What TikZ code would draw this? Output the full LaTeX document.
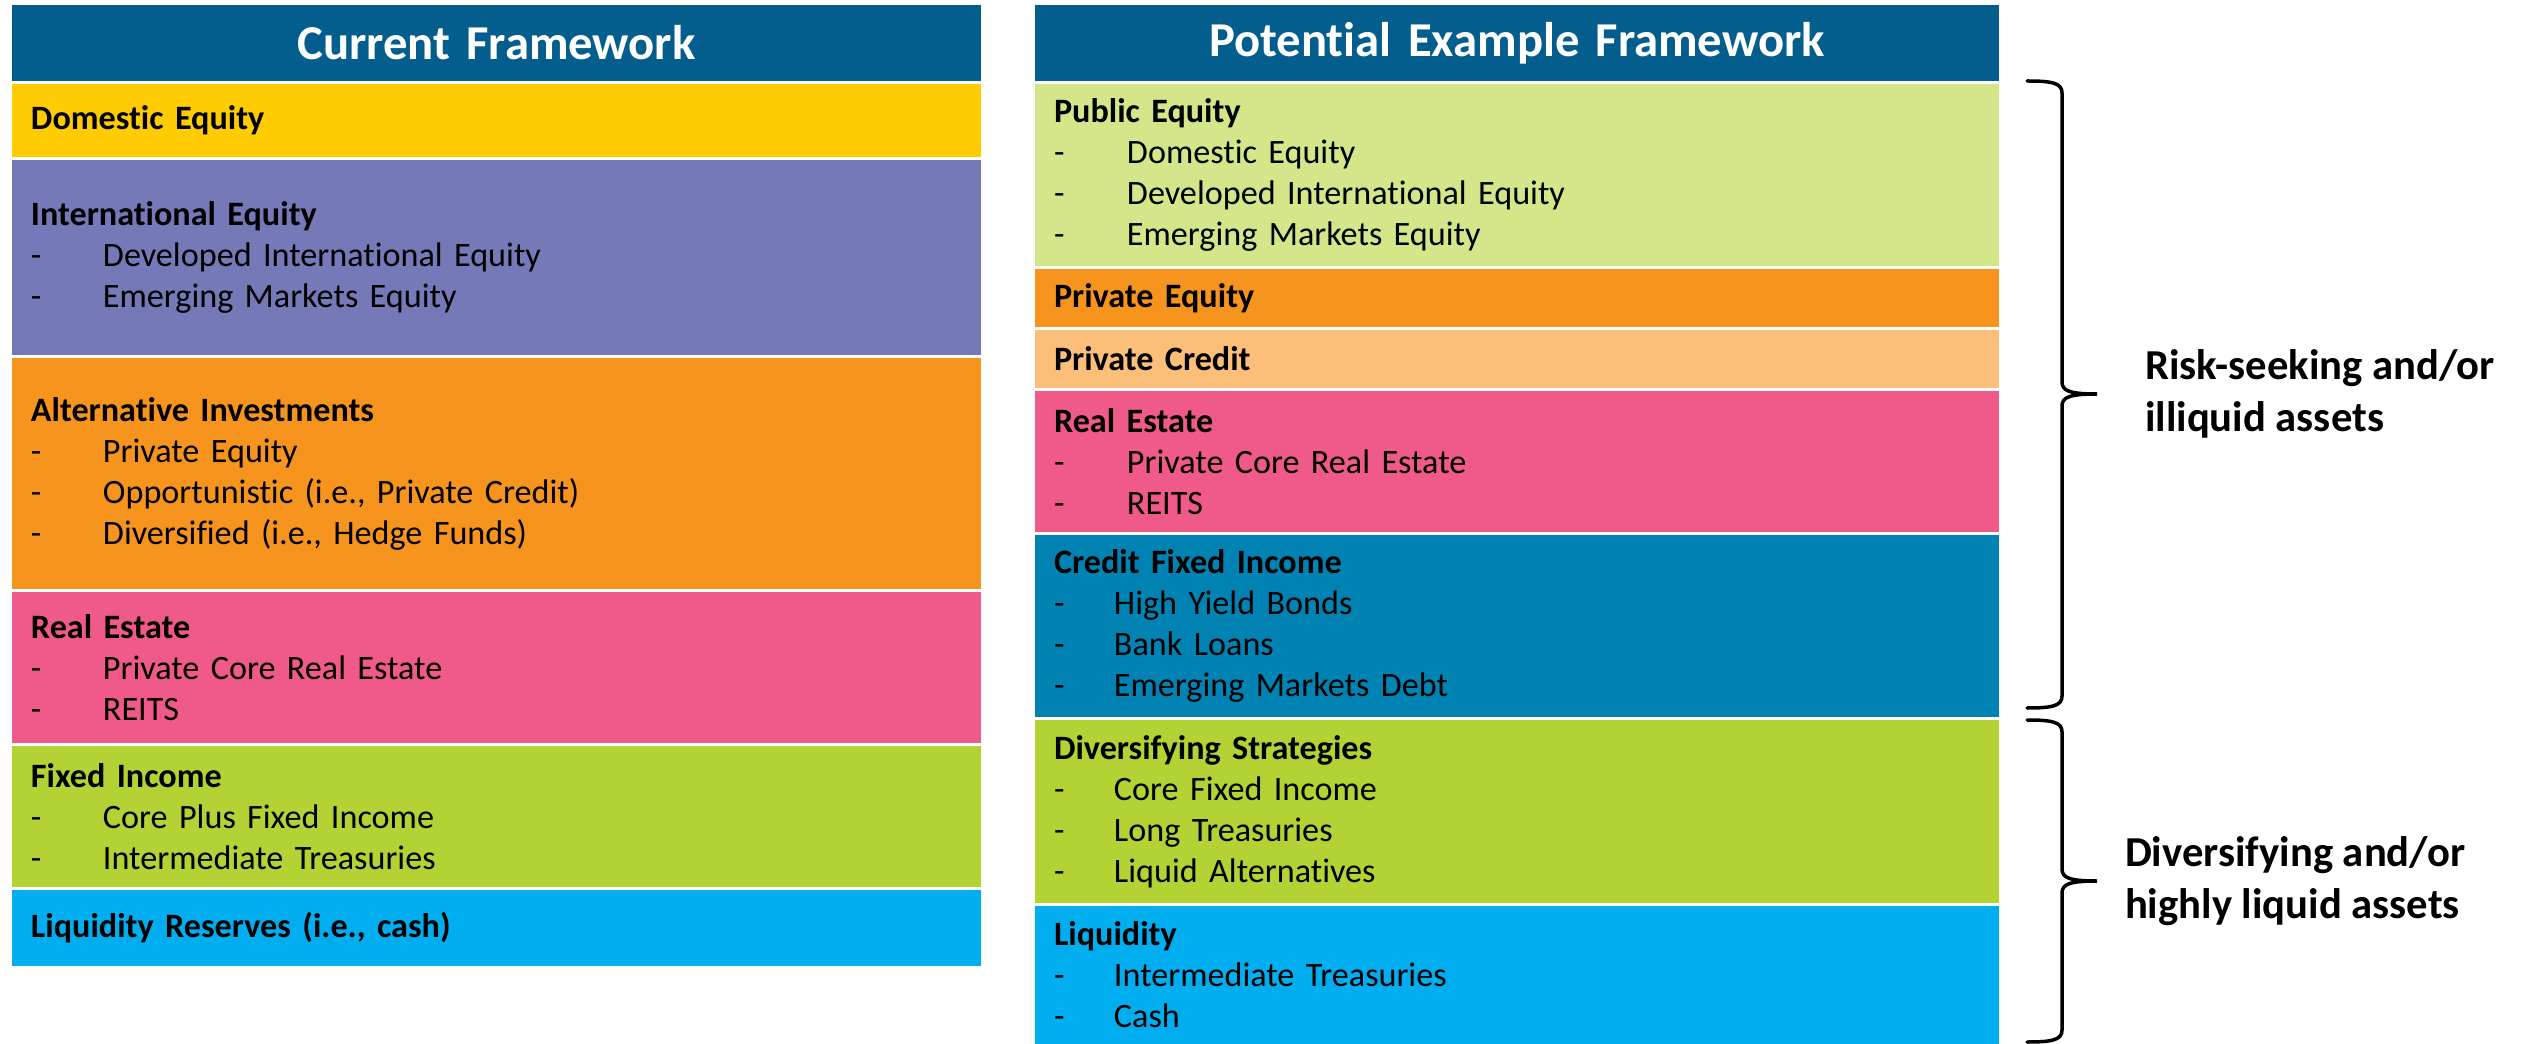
\documentclass[tikz,border=0pt]{standalone}
\usepackage{fontspec}
\setmainfont{Carlito}[Ligatures=NoCommon]
\usetikzlibrary{positioning}

\newdimen\px \px=0.3pt
\definecolor{hdrblue}{RGB}{4,94,141}
\definecolor{domyellow}{RGB}{255,204,4}
\definecolor{intlpurple}{RGB}{117,121,184}
\definecolor{altorange}{RGB}{247,148,30}
\definecolor{repink}{RGB}{240,90,136}
\definecolor{figreen}{RGB}{179,211,53}
\definecolor{liqcyan}{RGB}{0,174,239}
\definecolor{publime}{RGB}{212,230,138}
\definecolor{pcpeach}{RGB}{251,191,122}
\definecolor{cfiteal}{RGB}{0,131,179}
% dash, then the item at a fixed indent
\newcommand{\ditem}[2][72]{\makebox[#1\px][l]{-}#2}

\begin{document}
\begin{tikzpicture}[x=0.3pt, y=-0.3pt, node distance=3\px,
  every node/.style = {outer sep=0pt},
  band/.style = {rectangle, fill=#1, anchor=north west,
    inner xsep=19\px, inner ysep=0pt, align=left,
    font=\fontsize{10.25}{12.3}\selectfont},
  lcol/.style = {text width=931\px},
  rcol/.style = {text width=926\px},
  hdr/.style = {band=hdrblue, align=center, text=white,
    minimum height=76\px, font=\fontsize{14.6}{17}\selectfont\bfseries},
  tag/.style = {align=left, inner sep=0pt,
    font=\fontsize{12.8}{15.5}\selectfont\bfseries},
  bracestroke/.style = {line width=3.5\px, line cap=round}]
  \useasboundingbox (0,0) rectangle (2529,1044);

  % current framework
  \node[hdr, lcol] (curhdr) at (12,5) {Current Framework};
  \node[band=domyellow, lcol, minimum height=73\px, below=of curhdr] (dom)
    {\textbf{Domestic Equity}};
  \node[band=intlpurple, lcol, minimum height=195\px, below=of dom] (intl)
    {\textbf{International Equity}\\ \ditem{Developed International Equity}\\
     \ditem{Emerging Markets Equity}};
  \node[band=altorange, lcol, minimum height=231\px, below=of intl] (alt)
    {\textbf{Alternative Investments}\\ \ditem{Private Equity}\\
     \ditem{Opportunistic (i.e., Private Credit)}\\ \ditem{Diversified (i.e., Hedge Funds)}};
  \node[band=repink, lcol, minimum height=151\px, below=of alt] (re)
    {\textbf{Real Estate}\\ \ditem{Private Core Real Estate}\\ \ditem{REITS}};
  \node[band=figreen, lcol, minimum height=141\px, below=of re] (fi)
    {\textbf{Fixed Income}\\ \ditem{Core Plus Fixed Income}\\ \ditem{Intermediate Treasuries}};
  \node[band=liqcyan, lcol, minimum height=76\px, below=of fi] (liq)
    {\textbf{Liquidity Reserves (i.e., cash)}};

  % potential example framework
  \node[hdr, rcol] (pothdr) at (1035,5) {Potential Example Framework};
  \node[band=publime, rcol, minimum height=182\px, below=of pothdr] (pub)
    {\textbf{Public Equity}\\ \ditem[73]{Domestic Equity}\\
     \ditem[73]{Developed International Equity}\\ \ditem[73]{Emerging Markets Equity}};
  \node[band=altorange, rcol, minimum height=58\px, below=of pub] (pe)
    {\textbf{Private Equity}};
  \node[band=pcpeach, rcol, minimum height=58\px, below=of pe] (pc)
    {\textbf{Private Credit}};
  \node[band=repink, rcol, minimum height=141\px, below=of pc] (rre)
    {\textbf{Real Estate}\\ \ditem[73]{Private Core Real Estate}\\ \ditem[73]{REITS}};
  \node[band=cfiteal, rcol, minimum height=182\px, below=of rre] (cfi)
    {\textbf{Credit Fixed Income}\\ \ditem[60]{High Yield Bonds}\\
     \ditem[60]{Bank Loans}\\ \ditem[60]{Emerging Markets Debt}};
  \node[band=figreen, rcol, minimum height=183\px, below=of cfi] (div)
    {\textbf{Diversifying Strategies}\\ \ditem[60]{Core Fixed Income}\\
     \ditem[60]{Long Treasuries}\\ \ditem[60]{Liquid Alternatives}};
  \node[band=liqcyan, rcol, minimum height=138\px, below=of div] (rliq)
    {\textbf{Liquidity}\\ \ditem[60]{Intermediate Treasuries}\\ \ditem[60]{Cash}};

  % braces and their labels
  \coordinate (risktip) at (2097,394);
  \coordinate (divtip) at (2097,881);
  \draw[bracestroke] (2027,81) .. controls (2052,81) and (2062,83) .. (2062,93)
    -- (2062,382) .. controls (2062,391) and (2070,394) .. (risktip)
    .. controls (2070,394) and (2062,397) .. (2062,406)
    -- (2062,696) .. controls (2062,706) and (2052,708) .. (2027,708);
  \draw[bracestroke] (2027,720) .. controls (2052,720) and (2062,722) .. (2062,732)
    -- (2062,869) .. controls (2062,878) and (2070,881) .. (divtip)
    .. controls (2070,881) and (2062,884) .. (2062,893)
    -- (2062,1030) .. controls (2062,1040) and (2052,1042) .. (2027,1042);
  \node[tag, right=48\px of risktip] (risklbl) {Risk-seeking and/or\\illiquid assets};
  \node[tag, right=28\px of divtip] (divlbl) {Diversifying and/or\\highly liquid assets};
\end{tikzpicture}
\end{document}
